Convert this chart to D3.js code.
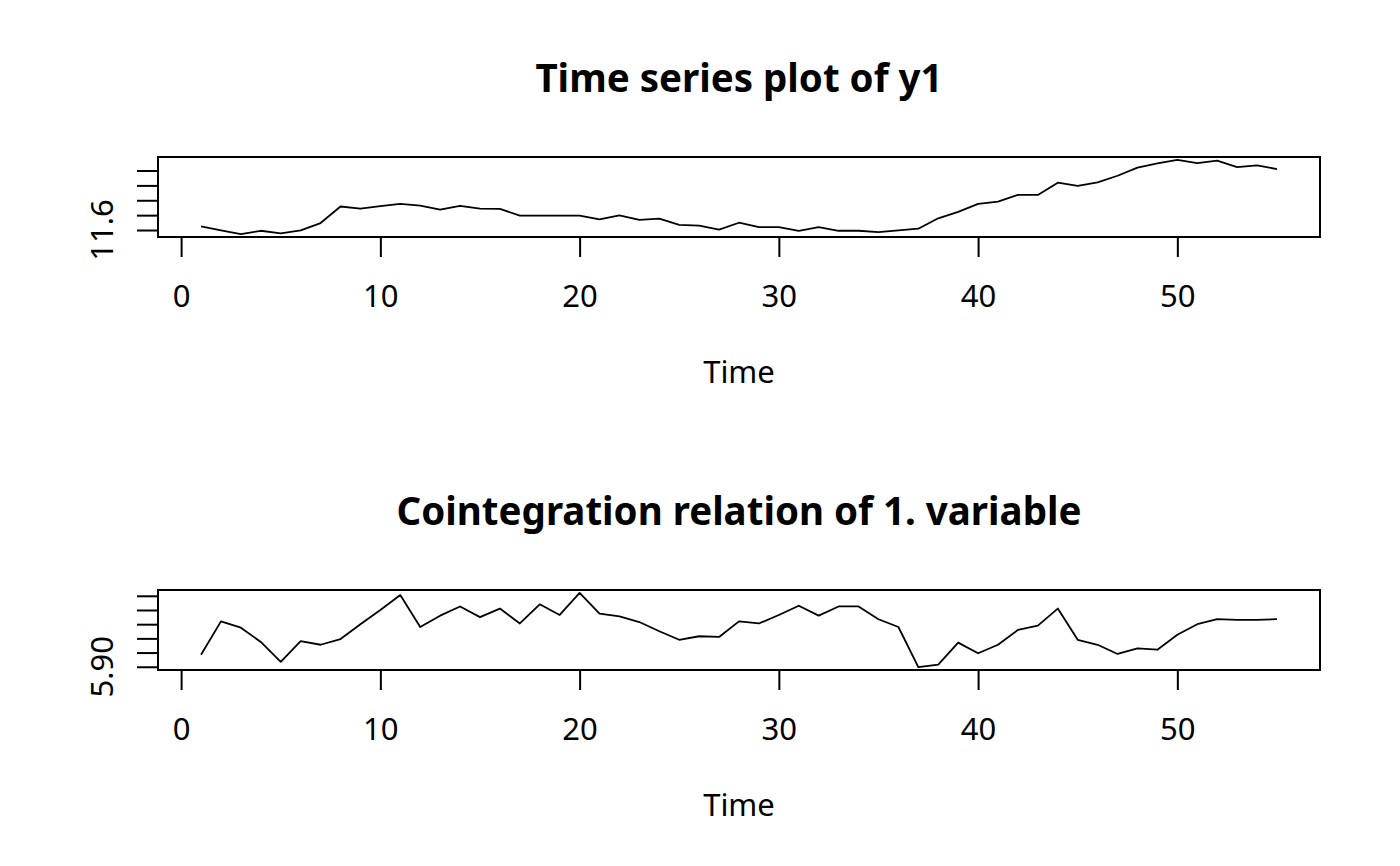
<!DOCTYPE html>
<html>
<head>
<meta charset="utf-8">
<script src="https://cdn.jsdelivr.net/npm/d3@7"></script>
<style>
  body { margin: 0; background: white; }
  text { font-family: "Noto Sans", sans-serif; fill: black; }
</style>
</head>
<body>
<div id="canvas"></div>
<script>
var w = 1400;
var h = 866;

// time index 1..55
var time = d3.range(1, 56);

var y1 = [
  11.625, 11.598, 11.573, 11.595, 11.578, 11.598, 11.647, 11.758, 11.744, 11.760,
  11.776, 11.764, 11.737, 11.762, 11.744, 11.742, 11.697, 11.697, 11.697, 11.697,
  11.672, 11.699, 11.668, 11.677, 11.634, 11.629, 11.602, 11.649, 11.620, 11.620,
  11.595, 11.620, 11.595, 11.595, 11.586, 11.598, 11.609, 11.679, 11.722, 11.776,
  11.791, 11.836, 11.836, 11.918, 11.897, 11.920, 11.965, 12.019, 12.048, 12.071,
  12.050, 12.066, 12.023, 12.035, 12.010
];

var coint = [
  5.917, 5.964, 5.955, 5.935, 5.907, 5.936, 5.931, 5.939, 5.960, 5.980,
  6.001, 5.956, 5.972, 5.985, 5.970, 5.982, 5.961, 5.988, 5.973, 6.004,
  5.975, 5.971, 5.963, 5.950, 5.938, 5.943, 5.942, 5.964, 5.961, 5.973,
  5.986, 5.972, 5.985, 5.985, 5.967, 5.956, 5.8996, 5.903, 5.934, 5.919,
  5.931, 5.952, 5.958, 5.982, 5.938, 5.931, 5.918, 5.926, 5.924, 5.945,
  5.960, 5.967, 5.966, 5.966, 5.967
];

var xTicks = [0, 10, 20, 30, 40, 50];
var y1Ticks = [11.6, 11.7, 11.8, 11.9, 12.0];
var cointTicks = [5.90, 5.92, 5.94, 5.96, 5.98, 6.00];

var panels = [
  {title: "Time series plot of y1", values: y1, ticks: y1Ticks, fmt: d3.format(".1f"), top: 157},
  {title: "Cointegration relation of 1. variable", values: coint, ticks: cointTicks, fmt: d3.format(".2f"), top: 590}
];

var left = 158, right = 1320, boxH = 80;

var canvas = d3.select("#canvas")
  .append("svg")
  .attr("width", w)
  .attr("height", h)
  .style("background-color", "white");

// R style 4% padding on both ends
function rDomain(ext) {
  var pad = (ext[1] - ext[0]) * 0.04;
  return [ext[0] - pad, ext[1] + pad];
}

var xScale = d3.scaleLinear()
  .domain(rDomain(d3.extent(time)))
  .range([left, right]);

panels.forEach(function(p) {
  var g = canvas.append("g");
  var bottom = p.top + boxH;

  var yScale = d3.scaleLinear()
    .domain(rDomain(d3.extent(p.values)))
    .range([bottom, p.top]);

  // x axis
  var xAxis = d3.axisBottom(xScale)
    .tickValues(xTicks)
    .tickSize(20)
    .tickPadding(28)
    .tickSizeOuter(0);
  var xg = g.append("g")
    .attr("transform", `translate(0, ${bottom})`)
    .call(xAxis);
  xg.select(".domain")
    .attr("d", `M${xScale(xTicks[0])},0H${xScale(xTicks[xTicks.length - 1])}`)
    .attr("stroke-width", 2);
  xg.selectAll(".tick line").attr("stroke-width", 2);
  xg.selectAll(".tick text")
    .style("font-size", "31px")
    .attr("fill", "black");

  // y axis, only first label fits in R
  var yAxis = d3.axisLeft(yScale)
    .tickValues(p.ticks)
    .tickSize(21)
    .tickFormat("")
    .tickSizeOuter(0);
  var yg = g.append("g")
    .attr("transform", `translate(${left}, 0)`)
    .call(yAxis);
  yg.select(".domain").remove();
  yg.selectAll(".tick line").attr("stroke-width", 2);

  g.append("text")
    .attr("transform", `translate(113, ${yScale(p.ticks[0])}) rotate(-90)`)
    .attr("text-anchor", "middle")
    .style("font-size", "31px")
    .text(p.fmt(p.ticks[0]));

  // series
  var line = d3.line()
    .x((d, i) => xScale(time[i]))
    .y(d => yScale(d));

  g.append("path")
    .datum(p.values)
    .attr("d", line)
    .attr("fill", "none")
    .attr("stroke", "black")
    .attr("stroke-width", 1.8)
    .attr("stroke-linejoin", "round");

  // box
  g.append("rect")
    .attr("x", left)
    .attr("y", p.top)
    .attr("width", right - left)
    .attr("height", boxH)
    .attr("fill", "none")
    .attr("stroke", "black")
    .attr("stroke-width", 2);

  // title
  g.append("text")
    .attr("x", (left + right) / 2)
    .attr("y", p.top - 65)
    .attr("text-anchor", "middle")
    .style("font-size", "38.5px")
    .style("font-weight", "bold")
    .text(p.title);

  // x label
  g.append("text")
    .attr("x", (left + right) / 2)
    .attr("y", bottom + 146)
    .attr("text-anchor", "middle")
    .style("font-size", "31px")
    .text("Time");
});
</script>
</body>
</html>
